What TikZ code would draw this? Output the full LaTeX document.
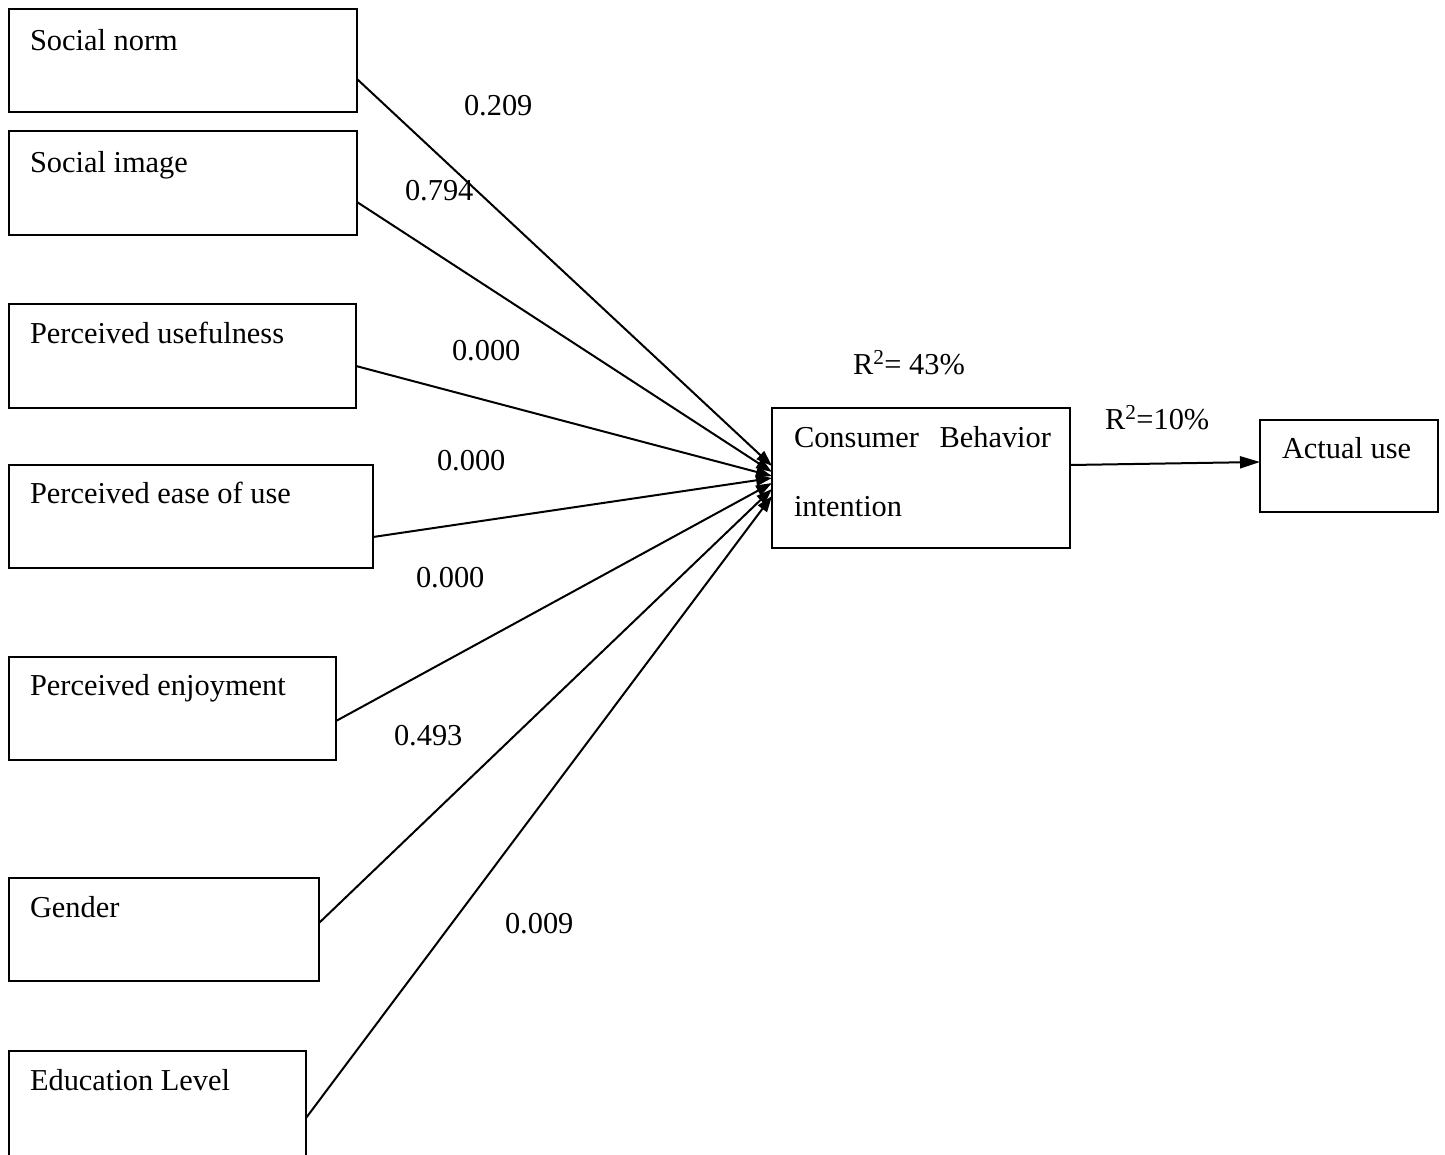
\documentclass[tikz,border=0pt]{standalone}
\usepackage{fontspec}
\setmainfont{Liberation Serif}
\usetikzlibrary{arrows.meta}
\begin{document}
\begin{tikzpicture}[x=1pt,y=-1pt,
  every node/.style={font=\fontsize{30.4}{36}\selectfont, inner sep=0pt, outer sep=0pt},
  box/.style={draw, line width=1.8pt, anchor=north west},
  txt/.style={anchor=base west},
  arr/.style={line width=2pt, -{Triangle[length=16pt,width=11pt]}}]
\useasboundingbox (0,0) rectangle (1445,1154);
\clip (0,0) rectangle (1445,1154);
% boxes
\node[box, minimum width=348pt, minimum height=103pt] (sn) at (9,9) {};
\node[box, minimum width=348pt, minimum height=104pt] (si) at (9,131) {};
\node[box, minimum width=347pt, minimum height=104pt] (pu) at (9,304) {};
\node[box, minimum width=364pt, minimum height=103pt] (pe) at (9,465) {};
\node[box, minimum width=327pt, minimum height=103pt] (pj) at (9,657) {};
\node[box, minimum width=310pt, minimum height=103pt] (ge) at (9,878) {};
\node[box, minimum width=297pt, minimum height=110pt] (el) at (9,1051) {};
\node[box, minimum width=298pt, minimum height=140pt] (cbi) at (772,408) {};
\node[box, minimum width=178pt, minimum height=92pt] (au) at (1260,420) {};
% box texts
\node[txt] (snt) at (30,50) {Social norm};
\node[txt] (sit) at (30,172) {Social image};
\node[txt] (put) at (30,343) {Perceived usefulness};
\node[txt] (pet) at (30,503) {Perceived ease of use};
\node[txt] (pjt) at (30,695) {Perceived enjoyment};
\node[txt] (get) at (30,917) {Gender};
\node[txt] (elt) at (30,1090) {Education Level};
\node[txt] (cbit1) at (794,447) {\makebox[257pt][s]{Consumer Behavior}};
\node[txt] (cbit2) at (794,516) {intention};
\node[txt] (aut) at (1282,458) {Actual use};
% coefficient labels
\node[txt] (l1) at (464,115) {0.209};
\node[txt] (l2) at (405,200) {0.794};
\node[txt] (l3) at (452,360) {0.000};
\node[txt] (l4) at (437,470) {0.000};
\node[txt] (l5) at (416,587) {0.000};
\node[txt] (l6) at (394,745) {0.493};
\node[txt] (l7) at (505,933) {0.009};
\node[txt] (r1) at (853,374) {R\textsuperscript{2}= 43\%};
\node[txt] (r2) at (1105,429) {R\textsuperscript{2}=10\%};
% connectors
\draw[arr] ([yshift=-18.5pt]sn.east) -- ([yshift=12pt]cbi.west);
\draw[arr] ([yshift=-19pt]si.east) -- ([yshift=6pt]cbi.west);
\draw[arr] ([yshift=-10pt]pu.east) -- ([yshift=2pt]cbi.west);
\draw[arr] ([yshift=-20.5pt]pe.east) -- ([yshift=0pt]cbi.west);
\draw[arr] ([yshift=-12.5pt]pj.east) -- ([yshift=-5pt]cbi.west);
\draw[arr] ([yshift=6.5pt]ge.east) -- ([yshift=-11pt]cbi.west);
\draw[arr] ([yshift=-12pt]el.east) -- ([yshift=-18pt]cbi.west);
\draw[line width=2pt, -{Triangle[length=20pt,width=12pt]}] ([yshift=13pt]cbi.east) -- ([yshift=4pt]au.west);
\end{tikzpicture}
\end{document}
